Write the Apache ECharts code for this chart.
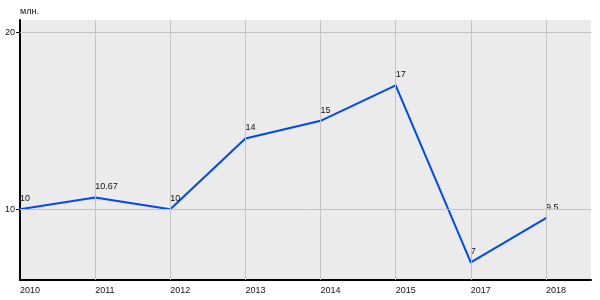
<!DOCTYPE html>
<html><head><meta charset="utf-8">
<script src="https://cdn.jsdelivr.net/npm/echarts@6/dist/echarts.min.js"></script>
<style>html,body{margin:0;padding:0;background:#fff}#c{width:600px;height:300px}</style>
</head><body><div id="c"></div>
<script>
const years = ['2010','2011','2012','2013','2014','2015','2017','2018'];
const values = [10, 10.67, 10, 14, 15, 17, 7, 9.5];
const yTicks = [10, 20];
const unit = 'млн.';

const font = 'Liberation Sans, Arial, sans-serif';
const fs = 9;
const chart = echarts.init(document.getElementById('c'), null, {renderer:'canvas'});
const idx = years.map((_, i) => i);
chart.setOption({
  animation: false,
  grid: {left: 20, right: 9, top: 20, bottom: 20, show: true, backgroundColor: '#ebebeb', borderWidth: 0},
  xAxis: {
    type: 'value', min: 0, max: 7.6,
    axisLine: {show: true, onZero: false, lineStyle: {color: '#000', width: 2}},
    axisTick: {show: false},
    splitLine: {show: false},
    axisLabel: {customValues: idx, formatter: v => years[Math.round(v)] || '', align: 'left', color: '#111', fontSize: fs, fontFamily: font, margin: 6}
  },
  yAxis: {
    type: 'value', min: 6, max: 20.7,
    name: unit, nameLocation: 'end', nameGap: 4,
    nameTextStyle: {align: 'left', color: '#111', fontSize: fs, fontFamily: font},
    axisLine: {show: true, lineStyle: {color: '#000', width: 2}},
    axisTick: {show: true, customValues: yTicks, length: 4, lineStyle: {color: '#000'}},
    splitLine: {show: false},
    axisLabel: {customValues: yTicks, color: '#111', fontSize: fs, fontFamily: font, margin: 5}
  },
  series: [{
    type: 'line',
    data: values.map((v, i) => [i, v]),
    showSymbol: true, symbol: 'circle', symbolSize: 2,
    itemStyle: {color: '#0048f0'},
    lineStyle: {color: '#0048f0', width: 2},
    label: {show: true, position: 'top', align: 'left', distance: 5, color: '#111', fontSize: fs, fontFamily: font,
      formatter: p => String(p.value[1])},
    markLine: {
      silent: true, symbol: 'none', label: {show: false},
      lineStyle: {color: '#c4c4c4', width: 1, type: 'solid'},
      data: idx.slice(1).map(i => ({xAxis: i})).concat(yTicks.map(t => ({yAxis: t})))
    },
    z: 3
  }]
});
</script></body></html>
